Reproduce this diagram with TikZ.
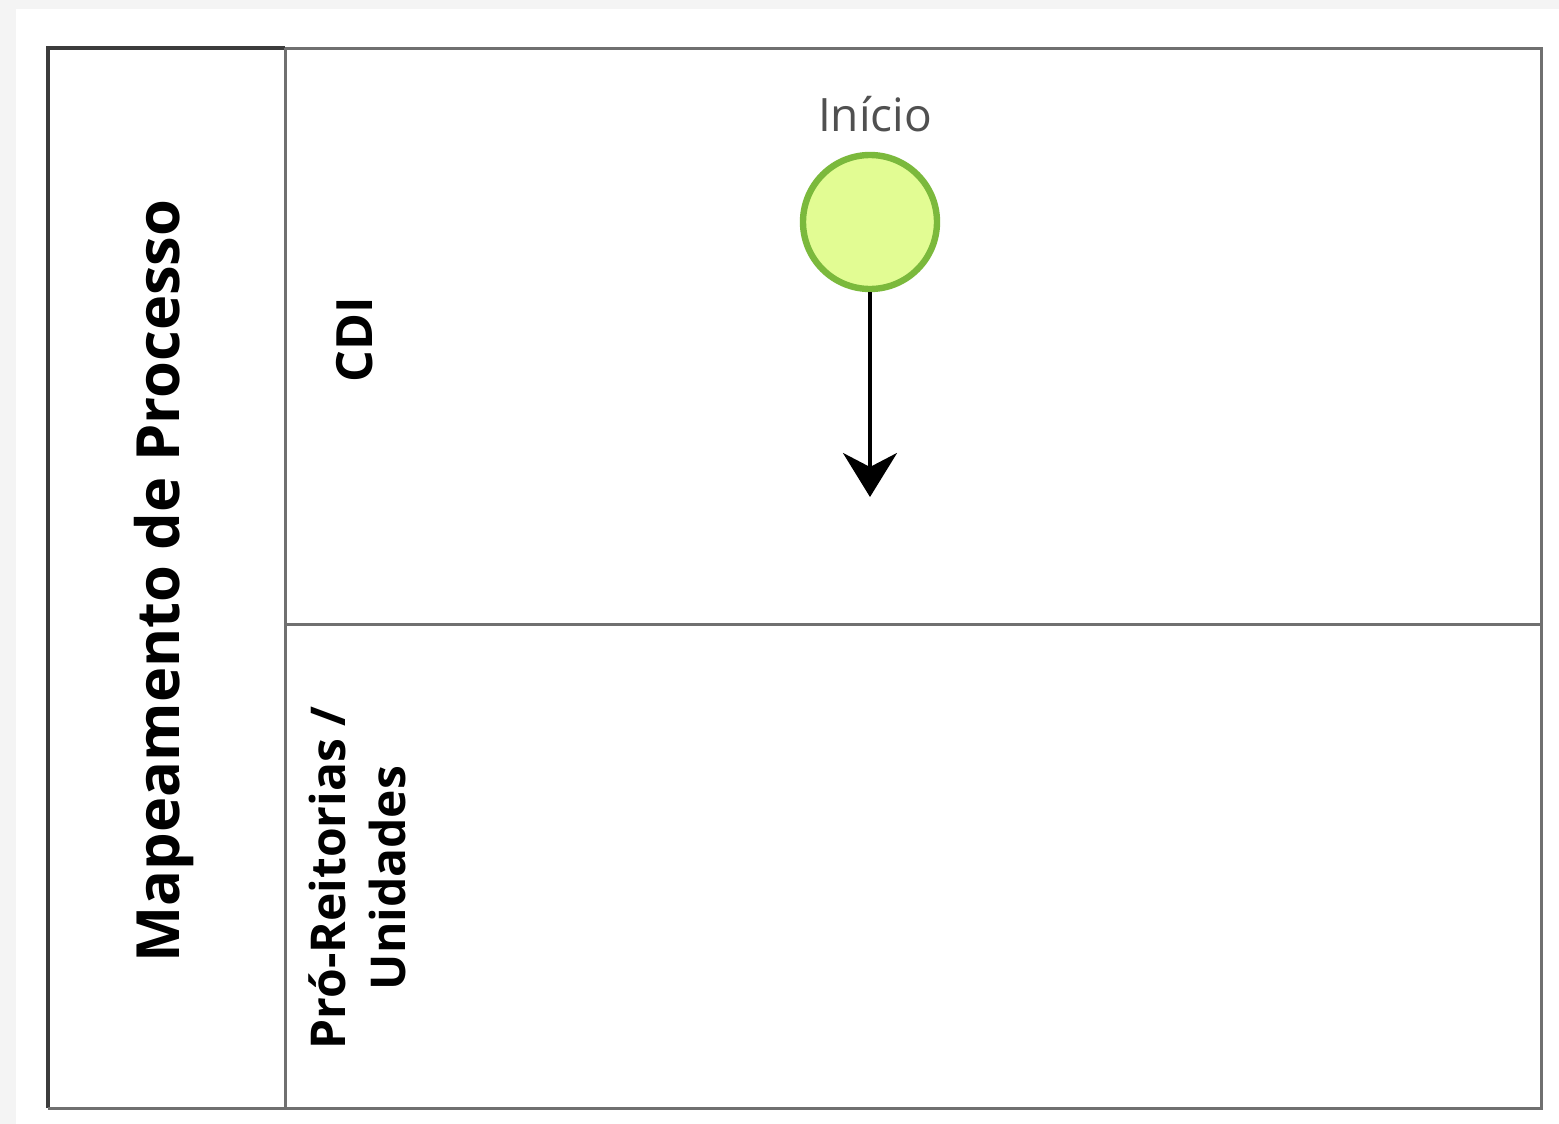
\documentclass[tikz,border=0pt]{standalone}
\usepackage{fontspec}
\setmainfont{Open Sans}
\usetikzlibrary{arrows.meta}
\definecolor{pageGrey}{HTML}{F4F4F4}
\definecolor{poolLine}{HTML}{3C3C3C}
\definecolor{laneLine}{HTML}{707070}
\definecolor{startFill}{HTML}{E2FC93}
\definecolor{startLine}{HTML}{7BB93C}
\definecolor{labelGrey}{HTML}{505050}
\tikzset{
  poolbox/.style={draw=poolLine, line width=1.6pt},
  lanebox/.style={draw=laneLine, line width=1.5pt},
  lanelabel/.style={rotate=90, font=\bfseries\fontsize{24}{30}\selectfont, align=center, inner sep=0pt},
  startevent/.style={circle, draw=startLine, fill=startFill, line width=3.2pt, minimum size=67pt, inner sep=0pt},
  flow/.style={line width=1.9pt, -{Stealth[length=22pt,width=27pt,inset=7pt]}}
}
\begin{document}
\begin{tikzpicture}[x=0.5pt,y=-0.5pt]
  % page background
  \fill[pageGrey] (0,0) rectangle (1559,1124);
  \fill[white] (16,9) rectangle (1559,1124);
  \useasboundingbox (0,0) rectangle (1559,1124);

  % lanes
  \draw[lanebox] (285,48) rectangle (1541,624);
  \draw[lanebox] (285,624) rectangle (1541,1108);
  % pool header
  \draw[poolbox] (48,1108) -- (48,48) -- (285,48);
  \draw[lanebox] (285,48) -- (285,1108) -- (48,1108);

  % labels
  \node[lanelabel, font=\bfseries\fontsize{29.8}{34}\selectfont] (pool) at (164,581) {Mapeamento de Processo};
  \node[lanelabel, font=\bfseries\fontsize{25}{30}\selectfont] (cdi) at (355,340) {CDI};
  \node[lanelabel] (pro) at (357,878) {Pró-Reitorias /\\Unidades};

  % start event and outgoing flow
  \node[startevent] (start) at (870,222) {};
  \node[font=\fontsize{23}{28}\selectfont, text=labelGrey, inner sep=0pt] (startlbl) at (875,114) {Início};
  \coordinate (flowend) at (870,497);
  \draw[flow] (start) -- (flowend);
\end{tikzpicture}
\end{document}
